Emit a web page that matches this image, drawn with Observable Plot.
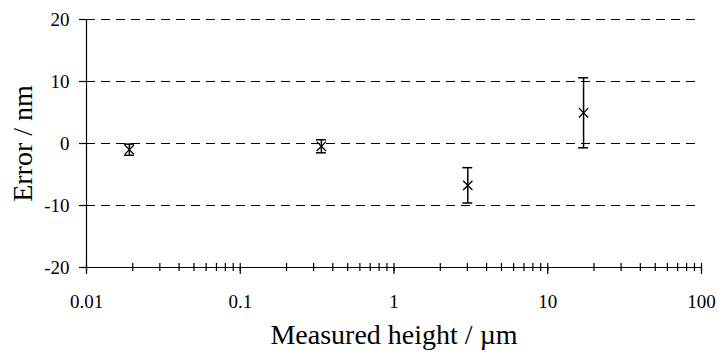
<!DOCTYPE html>
<html>
<head>
<meta charset="utf-8">
<script src="https://cdn.jsdelivr.net/npm/d3@7"></script>
<script src="https://cdn.jsdelivr.net/npm/@observablehq/plot@0.6"></script>
<style>
  html, body { margin: 0; padding: 0; background: #fff; }
  #chart svg text { font-family: "Liberation Serif", "Times New Roman", serif !important; }
</style>
</head>
<body>
<div id="chart"></div>
<script>
// Data
const heights = [0.019, 0.337, 3.02, 17.1];          // measured height / µm
const errors = [-1.0, -0.45, -6.75, 4.95];           // error / nm
const uncertainty = [0.9, 1.05, 2.85, 5.65];         // error-bar half length / nm

// Axis ticks
const decades = [0.01, 0.1, 1, 10, 100];
const minorMultipliers = [2, 3, 4, 5, 6, 7, 8, 9];
const yTicks = [-20, -10, 0, 10, 20];
const gridValues = [-10, 0, 10, 20];

const xLabel = "Measured height / µm";
const yLabel = "Error / nm";

const minorTicks = decades.slice(0, -1).flatMap(d => minorMultipliers.map(m => +(d * m).toPrecision(3)));
const rows = heights.map((h, i) => ({
  h, e: errors[i], lo: errors[i] - uncertainty[i], hi: errors[i] + uncertainty[i]
}));

const font = '"Liberation Serif", "Times New Roman", serif';

const chart = Plot.plot({
  width: 721,
  height: 352,
  marginLeft: 86,
  marginRight: 20,
  marginTop: 19,
  marginBottom: 85,
  style: { fontFamily: font, background: "white", color: "black" },
  x: { type: "log", domain: [0.01, 100] },
  y: { domain: [-20, 20] },
  marks: [
    Plot.ruleY(gridValues, { stroke: "black", strokeWidth: 1, strokeDasharray: "9,6" }),
    Plot.ruleX([decades[0]], { stroke: "black", strokeWidth: 1.2 }),
    Plot.ruleY([yTicks[0]], { stroke: "black", strokeWidth: 1.2 }),
    Plot.ruleX([...minorTicks, ...decades], { y1: yTicks[0], y2: yTicks[0], insetTop: -4, insetBottom: -4, stroke: "black", strokeWidth: 1.2 }),
    Plot.axisX({ ticks: decades, tickSize: 7, tickPadding: 20, fontSize: 19, fontFamily: font, tickFormat: d => String(d), label: null, strokeWidth: 1.2 }),
    Plot.axisY({ ticks: yTicks, tickSize: 7, tickPadding: 10, fontSize: 19, fontFamily: font, tickFormat: d => String(d), label: null, strokeWidth: 1.2 }),
    Plot.ruleX(rows, { x: "h", y1: "lo", y2: "hi", stroke: "black", strokeWidth: 1.5 }),
    Plot.ruleY(rows, { y: "hi", x1: "h", x2: "h", insetLeft: -5, insetRight: -5, stroke: "black", strokeWidth: 1.5 }),
    Plot.ruleY(rows, { y: "lo", x1: "h", x2: "h", insetLeft: -5, insetRight: -5, stroke: "black", strokeWidth: 1.5 }),
    Plot.dot(rows, { x: "h", y: "e", symbol: "times", r: 4.3, stroke: "black", strokeWidth: 1.3 }),
    Plot.text([xLabel], { text: d => d, frameAnchor: "bottom", textAnchor: "middle", lineAnchor: "bottom", dy: 76, fontSize: 28, fontFamily: font, fill: "black" }),
    Plot.text([yLabel], { text: d => d, frameAnchor: "left", textAnchor: "middle", lineAnchor: "middle", dx: -63, rotate: -90, fontSize: 28, fontFamily: font, fill: "black" })
  ]
});

document.getElementById("chart").appendChild(chart);
</script>
</body>
</html>
